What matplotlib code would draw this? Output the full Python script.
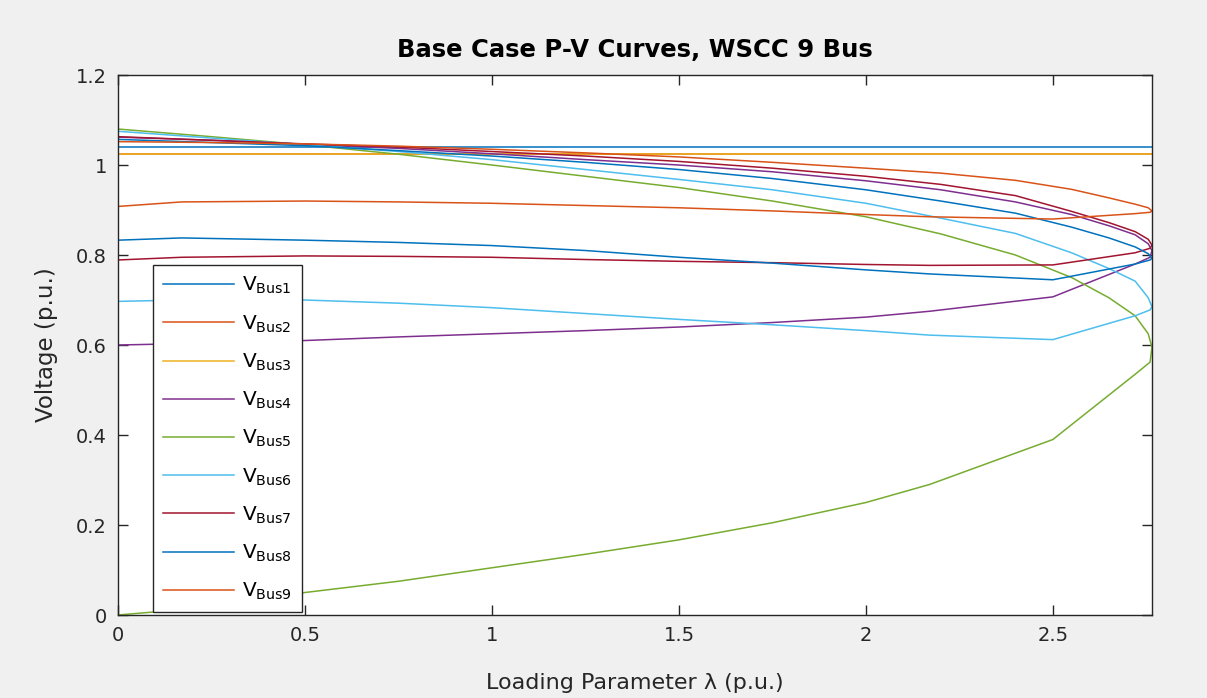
import matplotlib
matplotlib.use('Agg')
import matplotlib.pyplot as plt
from matplotlib.ticker import FormatStrFormatter

# continuation path of the loading parameter: upper branch out to the nose, lower branch back
lam = [0.0, 0.25, 0.5, 0.75, 1.0, 1.25, 1.5, 1.75, 2.0, 2.2, 2.4, 2.55, 2.65, 2.72, 2.755, 2.765,
       2.76, 2.72, 2.5, 2.17, 2.0, 1.75, 1.5, 1.25, 1.0, 0.75, 0.5, 0.17, 0.0]

# generator buses hold their set-point voltage over the whole run
lam_gen = [0.0, 2.765]
v_bus1 = [1.04, 1.04]
v_bus2 = [1.025, 1.025]
v_bus3 = [1.025, 1.025]

v_bus4 = [1.062, 1.055, 1.046, 1.037, 1.025, 1.012, 1.0, 0.985, 0.965, 0.945, 0.918, 0.89, 0.865, 0.845, 0.825, 0.81,
          0.795, 0.78, 0.707, 0.675, 0.662, 0.65, 0.64, 0.632, 0.625, 0.618, 0.61, 0.603, 0.60]
v_bus5 = [1.08, 1.063, 1.045, 1.024, 1.0, 0.975, 0.95, 0.92, 0.885, 0.847, 0.80, 0.75, 0.705, 0.665, 0.625, 0.595,
          0.562, 0.535, 0.39, 0.29, 0.25, 0.205, 0.167, 0.135, 0.105, 0.075, 0.05, 0.012, 0.0]
v_bus6 = [1.075, 1.06, 1.045, 1.03, 1.012, 0.99, 0.968, 0.945, 0.915, 0.882, 0.848, 0.805, 0.77, 0.742, 0.705, 0.685,
          0.678, 0.665, 0.612, 0.622, 0.632, 0.645, 0.657, 0.67, 0.683, 0.693, 0.70, 0.70, 0.697]
v_bus7 = [1.063, 1.055, 1.047, 1.04, 1.03, 1.02, 1.008, 0.993, 0.975, 0.957, 0.932, 0.897, 0.872, 0.852, 0.835, 0.822,
          0.815, 0.805, 0.778, 0.777, 0.779, 0.783, 0.786, 0.79, 0.795, 0.797, 0.798, 0.795, 0.789]
v_bus8 = [1.057, 1.05, 1.043, 1.032, 1.02, 1.006, 0.99, 0.97, 0.945, 0.92, 0.893, 0.862, 0.838, 0.818, 0.803, 0.793,
          0.789, 0.78, 0.745, 0.758, 0.767, 0.782, 0.795, 0.81, 0.821, 0.828, 0.833, 0.838, 0.833]
v_bus9 = [1.052, 1.05, 1.047, 1.042, 1.035, 1.027, 1.018, 1.006, 0.993, 0.982, 0.966, 0.946, 0.927, 0.913, 0.905, 0.898,
          0.895, 0.892, 0.88, 0.885, 0.89, 0.898, 0.905, 0.91, 0.915, 0.918, 0.92, 0.918, 0.908]

labels = ['Bus1', 'Bus2', 'Bus3', 'Bus4', 'Bus5', 'Bus6', 'Bus7', 'Bus8', 'Bus9']

# MATLAB default line colour order
colores = ['#0072BD', '#D95319', '#EDB120', '#7E2F8E', '#77AC30', '#4DBEEE', '#A2142F']

curvas = [(lam_gen, v_bus1), (lam_gen, v_bus2), (lam_gen, v_bus3),
          (lam, v_bus4), (lam, v_bus5), (lam, v_bus6),
          (lam, v_bus7), (lam, v_bus8), (lam, v_bus9)]

fig = plt.figure(figsize=(12.07, 6.98), dpi=100, facecolor='#f0f0f0')
ax = fig.add_axes([0.0978, 0.1189, 0.8566, 0.7736])
ax.set_facecolor('white')

for i, (x, v) in enumerate(curvas):
    ax.plot(x, v, color=colores[i % len(colores)], lw=1.1,
            label=r'$\mathregular{V_{%s}}$' % labels[i])

ax.set_xlim(0, 2.765)
ax.set_ylim(0, 1.2)
ax.set_xticks([0, 0.5, 1, 1.5, 2, 2.5])
ax.set_yticks([0, 0.2, 0.4, 0.6, 0.8, 1.0, 1.2])
ax.xaxis.set_major_formatter(FormatStrFormatter('%g'))
ax.yaxis.set_major_formatter(FormatStrFormatter('%g'))

gris = '#262626'
ax.tick_params(direction='in', length=7, width=1.0, colors=gris, labelsize=14,
               top=True, right=True, pad=8)
for lado in ax.spines.values():
    lado.set_color(gris)
    lado.set_linewidth(1.0)

ax.set_title('Base Case P-V Curves, WSCC 9 Bus', fontsize=17.5, fontweight='bold', color='black', pad=13)
ax.set_xlabel('Loading Parameter λ (p.u.)', fontsize=16, color=gris, labelpad=20)
ax.set_ylabel('Voltage (p.u.)', fontsize=16.5, color=gris, labelpad=13)

leg = ax.legend(loc='upper left', bbox_to_anchor=(0.034, 0.648), borderaxespad=0,
                fontsize=14.5, handlelength=3.5, labelspacing=0.84, handletextpad=0.4,
                borderpad=0.5, fancybox=False, framealpha=1)
leg.get_frame().set_edgecolor(gris)
leg.get_frame().set_linewidth(1.0)

fig.savefig('out.png', dpi=100, facecolor=fig.get_facecolor())
